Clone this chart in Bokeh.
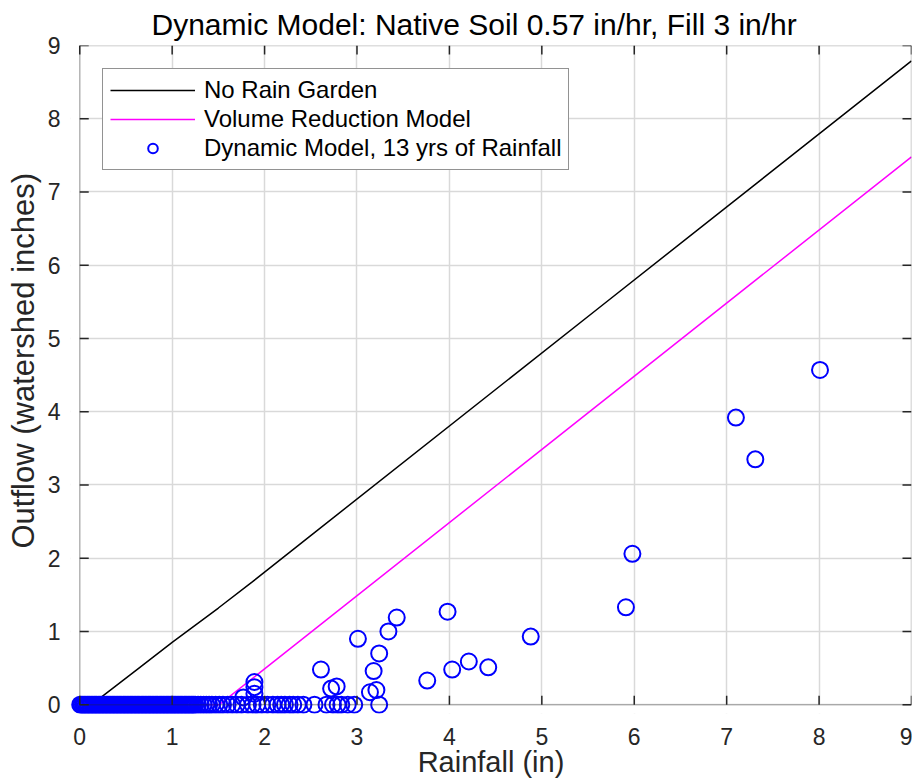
import math
from bokeh.plotting import figure
from bokeh.models import Range1d, FixedTicker, Legend, BoxAnnotation, Title
from bokeh.embed import file_html
from bokeh.resources import INLINE

# ---- data ----
ticks = [0, 1, 2, 3, 4, 5, 6, 7, 8, 9]

# No Rain Garden curve
no_rg_x = [0.0, 0.10, 0.24, 0.63, 1.00, 1.50, 1.86, 2.40, 5.64, 9.00]
no_rg_y = [0.0, 0.00, 0.11, 0.49, 0.85, 1.32, 1.67, 2.21, 5.44, 8.79]

# Volume Reduction Model curve
vr_x = [0.0, 1.51, 9.00]
vr_y = [0.0, 0.00, 7.48]

# Dynamic model events with zero outflow (dense band of small storms)
zero_x = [0.005, 0.02, 0.035, 0.05, 0.065, 0.08, 0.095, 0.11, 0.125, 0.14, 0.155, 0.17,
          0.185, 0.20, 0.215, 0.23, 0.245, 0.26, 0.275, 0.29, 0.305, 0.32, 0.335, 0.35,
          0.365, 0.38, 0.395, 0.41, 0.425, 0.44, 0.455, 0.47, 0.485, 0.50, 0.515, 0.53,
          0.545, 0.56, 0.575, 0.59, 0.605, 0.62, 0.635, 0.65, 0.665, 0.68, 0.695, 0.71,
          0.725, 0.74, 0.755, 0.77, 0.785, 0.80, 0.815, 0.83, 0.845, 0.86, 0.875, 0.89,
          0.905, 0.92, 0.935, 0.95, 0.965, 0.98, 0.995, 1.01, 1.025, 1.04, 1.055, 1.07,
          1.085, 1.10, 1.115, 1.13, 1.145, 1.16, 1.175, 1.19, 1.205, 1.22, 1.235, 1.25,
          1.28, 1.31, 1.34, 1.37, 1.40, 1.43, 1.47, 1.51, 1.55, 1.60, 1.65, 1.70,
          1.75, 1.82, 1.87, 1.92, 1.97, 2.03, 2.09, 2.14, 2.18, 2.22, 2.27, 2.31,
          2.36, 2.42, 2.54, 2.67, 2.74, 2.79, 2.83, 2.90, 2.97, 3.24]
zero_y = [0.0] * len(zero_x)

# Dynamic model events with positive outflow
pos_x = [1.77, 1.89, 1.89, 1.89, 2.61, 2.72, 2.78, 3.01, 3.14, 3.18, 3.21, 3.24,
         3.34, 3.43, 3.76, 3.98, 4.03, 4.21, 4.42, 4.88, 5.91, 5.98, 7.10, 7.31, 8.01]
pos_y = [0.10, 0.15, 0.24, 0.31, 0.48, 0.22, 0.25, 0.90, 0.17, 0.46, 0.20, 0.70,
         1.00, 1.19, 0.33, 1.27, 0.48, 0.59, 0.51, 0.93, 1.33, 2.06, 3.92, 3.35, 4.57]

dyn_x = zero_x + pos_x
dyn_y = zero_y + pos_y

FONT = "Liberation Sans"
AX = "#262626"
X0, X1, Y0, Y1 = ticks[0], ticks[-1], ticks[0], ticks[-1]

# frame extends a little below / left of the axes so markers at 0 are not cut
p = figure(width=912, height=782, output_backend="svg", toolbar_location=None,
           x_range=Range1d(-0.1, 9), y_range=Range1d(-0.12, 9),
           min_border_left=69, min_border_right=1, min_border_top=45, min_border_bottom=69)
p.outline_line_color = None
p.background_fill_color = "white"

p.title.text = "Dynamic Model: Native Soil 0.57 in/hr, Fill 3 in/hr"
p.title.align = "left"
p.title.offset = 81
p.title.standoff = 10
p.title.text_font = FONT
p.title.text_font_size = "30px"
p.title.text_font_style = "normal"
p.title.text_color = "black"

for ax in (p.xaxis[0], p.yaxis[0]):
    ax.ticker = FixedTicker(ticks=ticks)
    ax.axis_line_color = None
    ax.major_tick_line_color = None
    ax.minor_tick_line_color = None
    ax.major_label_text_font = FONT
    ax.major_label_text_font_size = "23px"
    ax.major_label_text_color = AX
    ax.axis_label_text_font = FONT
    ax.axis_label_text_font_size = "29px"
    ax.axis_label_text_font_style = "normal"
    ax.axis_label_text_color = AX
p.xaxis.axis_label = "Rainfall (in)"
p.xaxis.major_label_standoff = 8
p.xaxis.axis_label_standoff = -2
p.yaxis.major_label_standoff = 4

# y-axis label as a side title so it can sit where the reference puts it
ylab = Title(text="Outflow (watershed inches)", align="left", offset=165, standoff=7,
             text_font=FONT, text_font_size="31px", text_font_style="normal", text_color=AX)
p.add_layout(ylab, "left")

p.xgrid.ticker = FixedTicker(ticks=ticks)
p.ygrid.ticker = FixedTicker(ticks=ticks)
for g in (p.xgrid[0], p.ygrid[0]):
    g.grid_line_color = "#d9d9d9"
    g.grid_line_width = 1.5

# hide grid stubs outside the axes box
p.add_layout(BoxAnnotation(top=Y0, fill_color="white", fill_alpha=1, line_color=None, level="underlay"))
p.add_layout(BoxAnnotation(right=X0, fill_color="white", fill_alpha=1, line_color=None, level="underlay"))

r_black = p.line(no_rg_x, no_rg_y, line_color="black", line_width=1.5)
r_mag = p.line(vr_x, vr_y, line_color="#FF00FF", line_width=1.5)
r_dyn = p.scatter(dyn_x, dyn_y, marker="circle", size=16, fill_color=None,
                  line_color="#0000FF", line_width=2)

# axes box and inward ticks
p.add_layout(BoxAnnotation(left=X0, right=X1, bottom=Y0, top=Y1, fill_color=None,
                           line_color=AX, line_width=1.5))
n = len(ticks)
tk = dict(length=9, length_units="screen", line_color=AX, line_width=1.5)
p.ray(x=ticks, y=[Y0] * n, angle=math.pi / 2, **tk)
p.ray(x=ticks, y=[Y1] * n, angle=-math.pi / 2, **tk)
p.ray(x=[X0] * n, y=ticks, angle=0, **tk)
p.ray(x=[X1] * n, y=ticks, angle=math.pi, **tk)

legend = Legend(items=[("No Rain Garden", [r_black]),
                       ("Volume Reduction Model", [r_mag]),
                       ("Dynamic Model, 13 yrs of Rainfall", [r_dyn])],
                location=(32, 543))
legend.margin = 0
legend.padding = 7
legend.spacing = 1
legend.glyph_height = 24
legend.label_height = 24
legend.glyph_width = 85
legend.label_standoff = 9
legend.label_text_font = FONT
legend.label_text_font_size = "24px"
legend.label_text_color = "black"
legend.border_line_color = AX
legend.border_line_width = 1.5
legend.background_fill_color = "white"
legend.background_fill_alpha = 1.0
p.add_layout(legend)

open("out.html", "w").write(file_html(p, INLINE))
